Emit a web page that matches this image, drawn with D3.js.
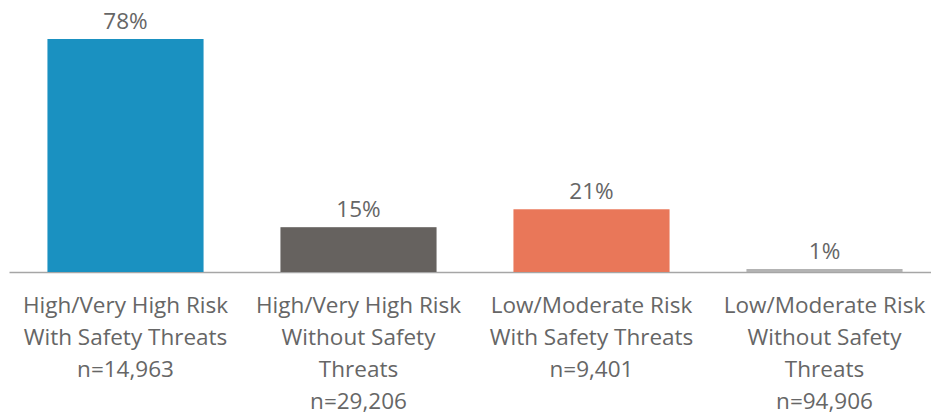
<!DOCTYPE html>
<html>
<head>
<meta charset="utf-8">
<script src="https://cdn.jsdelivr.net/npm/d3@7"></script>
<style>
  html, body { margin: 0; padding: 0; background: #fff; }
  svg { display: block; }
  text { font-family: "Open Sans", "Noto Sans", sans-serif; fill: #666666; }
</style>
</head>
<body>
<svg id="chart" width="931" height="416"></svg>
<script>
const categories = [
  ["High/Very High Risk", "With Safety Threats", "n=14,963"],
  ["High/Very High Risk", "Without Safety", "Threats", "n=29,206"],
  ["Low/Moderate Risk", "With Safety Threats", "n=9,401"],
  ["Low/Moderate Risk", "Without Safety", "Threats", "n=94,906"]
];
const keys = ["hv_with", "hv_without", "lm_with", "lm_without"];
const values = [78, 15, 21, 1];
const valueLabels = ["78%", "15%", "21%", "1%"];
const colors = ["#1a91c1", "#66625f", "#e97759", "#b3b3b3"];

const W = 931, H = 416;
const margin = { left: 9, right: -10, top: 0 };
const baseY = 272;
const svg = d3.select("#chart");

const x = d3.scaleBand()
  .domain(keys)
  .range([margin.left, W - margin.right])
  .paddingInner(0.33)
  .paddingOuter(0.165);

const y = d3.scaleLinear()
  .domain([0, 78])
  .range([baseY, 39]);

// axis baseline
const xAxis = d3.axisBottom(x).tickSize(0).tickFormat("");
const axisG = svg.append("g")
  .attr("transform", `translate(0,${baseY})`)
  .call(xAxis);
axisG.select(".domain").attr("stroke", "#a6a6a6").attr("stroke-width", 1.5);

// bars
svg.append("g").selectAll("rect")
  .data(keys)
  .join("rect")
  .attr("x", d => x(d))
  .attr("width", x.bandwidth())
  .attr("y", (d, i) => y(values[i]))
  .attr("height", (d, i) => baseY - y(values[i]))
  .attr("fill", (d, i) => colors[i]);

// value labels
svg.append("g").selectAll("text")
  .data(keys)
  .join("text")
  .attr("x", d => x(d) + x.bandwidth() / 2)
  .attr("y", (d, i) => y(values[i]) - 10)
  .attr("text-anchor", "middle")
  .style("font-size", "22.5px")
  .text((d, i) => valueLabels[i]);

// category labels
const lineH = 32;
const catG = svg.append("g").selectAll("text")
  .data(keys)
  .join("text")
  .attr("text-anchor", "middle")
  .style("font-size", "22.5px");
catG.each(function(d, i) {
  const t = d3.select(this);
  categories[i].forEach((line, j) => {
    t.append("tspan")
      .attr("x", x(d) + x.bandwidth() / 2)
      .attr("y", 313 + j * lineH)
      .text(line);
  });
});
</script>
</body>
</html>
